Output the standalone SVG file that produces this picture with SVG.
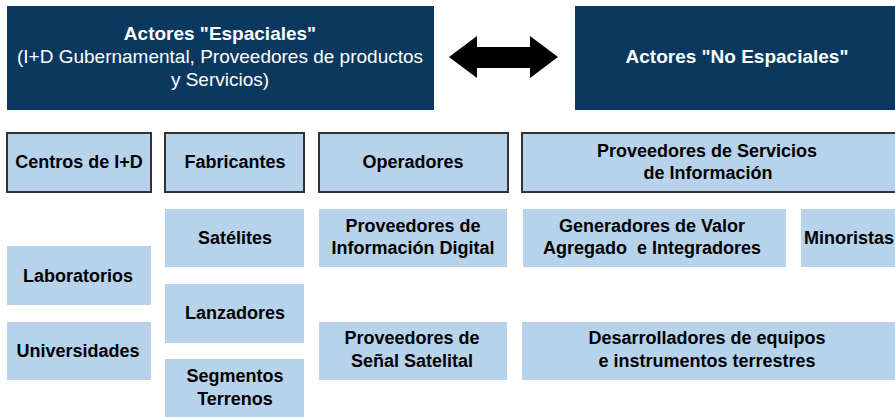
<svg xmlns="http://www.w3.org/2000/svg" width="895" height="417" viewBox="0 0 895 417">
<style>
.dark{fill:#0A385E}
.lb{fill:#B7D3EC}
.hdr{fill:#B7D3EC;stroke:#333333;stroke-width:2}
.t{font-family:"Liberation Sans",Arial,sans-serif;font-size:18px;font-weight:bold;fill:#000;text-anchor:middle;white-space:pre}
.w{font-family:"Liberation Sans",Arial,sans-serif;font-size:19px;fill:#fff;text-anchor:middle}
.wb{font-weight:bold}
</style>
<rect width="895" height="417" fill="#fff"/>
<g id="espaciales">
<rect class="dark" x="7" y="6" width="427" height="104"/>
<text class="w wb" x="220" y="40">Actores "Espaciales"</text>
<text class="w" x="220" y="63">(I+D Gubernamental, Proveedores de productos</text>
<text class="w" x="220" y="86">y Servicios)</text>
</g>
<g id="no-espaciales">
<rect class="dark" x="575" y="6" width="325" height="104"/>
<text class="w wb" x="737" y="63">Actores "No Espaciales"</text>
</g>
<g id="connectors">
<polygon fill="#000" points="449,57 477,36 477,47 530,47 530,36 558,57 530,78 530,68 477,68 477,78"/>
</g>
<g id="centros">
<rect class="hdr" x="7" y="133" width="144" height="59"/>
<text class="t" x="79" y="168">Centros de I+D</text>
</g>
<g id="fabricantes">
<rect class="hdr" x="165" y="133" width="139" height="59"/>
<text class="t" x="235" y="168">Fabricantes</text>
</g>
<g id="operadores">
<rect class="hdr" x="319" y="133" width="189" height="59"/>
<text class="t" x="413" y="168">Operadores</text>
</g>
<g id="proveedores-servicios">
<rect class="hdr" x="522" y="133" width="376" height="59"/>
<text class="t" x="707" y="157">Proveedores de Servicios</text>
<text class="t" x="708" y="179">de Información</text>
</g>
<g id="satelites">
<rect class="lb" x="165" y="209" width="139" height="58"/>
<text class="t" x="235" y="244">Satélites</text>
</g>
<g id="prov-info-digital">
<rect class="lb" x="319" y="209" width="188" height="58"/>
<text class="t" x="413" y="232">Proveedores de</text>
<text class="t" x="413" y="254">Información Digital</text>
</g>
<g id="generadores">
<rect class="lb" x="523" y="209" width="263" height="58"/>
<text class="t" x="652" y="232">Generadores de Valor</text>
<text class="t" x="652" y="254">Agregado  e Integradores</text>
</g>
<g id="minoristas">
<rect class="lb" x="801" y="209" width="100" height="58"/>
<text class="t" x="849" y="244">Minoristas</text>
</g>
<g id="laboratorios">
<rect class="lb" x="7" y="246" width="144" height="59"/>
<text class="t" x="78" y="282">Laboratorios</text>
</g>
<g id="universidades">
<rect class="lb" x="7" y="322" width="144" height="58"/>
<text class="t" x="78" y="357">Universidades</text>
</g>
<g id="lanzadores">
<rect class="lb" x="165" y="284" width="139" height="59"/>
<text class="t" x="235" y="319">Lanzadores</text>
</g>
<g id="segmentos">
<rect class="lb" x="165" y="359" width="139" height="60"/>
<text class="t" x="235" y="382">Segmentos</text>
<text class="t" x="235" y="405">Terrenos</text>
</g>
<g id="prov-senal">
<rect class="lb" x="319" y="322" width="188" height="58"/>
<text class="t" x="412" y="344">Proveedores de</text>
<text class="t" x="412" y="367">Señal Satelital</text>
</g>
<g id="desarrolladores">
<rect class="lb" x="522" y="322" width="376" height="58"/>
<text class="t" x="707" y="344">Desarrolladores de equipos</text>
<text class="t" x="707" y="367">e instrumentos terrestres</text>
</g>
</svg>
